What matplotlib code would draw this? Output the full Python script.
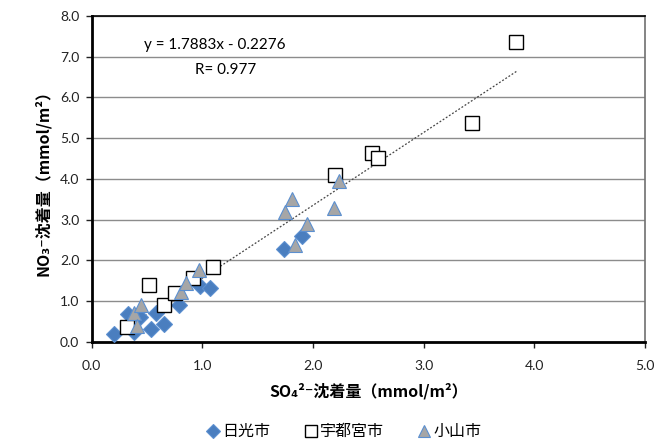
import numpy as np
import matplotlib
matplotlib.use("Agg")
import matplotlib.pyplot as plt

plt.rcParams['font.family'] = ['Noto Sans CJK JP', 'DejaVu Sans']

# 日光市 (diamonds)
nikko_so4 = [0.20, 0.33, 0.38, 0.44, 0.54, 0.58, 0.65, 0.79, 0.98, 1.07, 1.74, 1.90]
nikko_no3 = [0.19, 0.68, 0.24, 0.61, 0.31, 0.71, 0.43, 0.89, 1.38, 1.32, 2.27, 2.60]

# 宇都宮市 (squares)
utsu_so4 = [0.32, 0.52, 0.65, 0.75, 0.92, 1.10, 2.20, 2.53, 2.59, 3.44, 3.84]
utsu_no3 = [0.35, 1.39, 0.89, 1.19, 1.57, 1.84, 4.09, 4.63, 4.52, 5.37, 7.37]

# 小山市 (triangles)
oyama_so4 = [0.38, 0.41, 0.45, 0.81, 0.85, 0.97, 1.84, 1.95, 1.75, 1.81, 2.19, 2.24]
oyama_no3 = [0.70, 0.39, 0.90, 1.23, 1.43, 1.76, 2.38, 2.90, 3.19, 3.50, 3.29, 3.95]

slope, intercept = 1.7883, -0.2276
r_value = 0.977

fig = plt.figure(figsize=(6.62, 4.41), dpi=100)
ax = fig.add_axes([0.1385, 0.2252, 0.8355, 0.7385])

ax.set_xlim(0, 5)
ax.set_ylim(0, 8)
ax.set_xticks(np.arange(0, 5.01, 1.0))
ax.set_yticks(np.arange(0, 8.01, 1.0))
ax.xaxis.set_major_formatter(matplotlib.ticker.FormatStrFormatter('%.1f'))
ax.yaxis.set_major_formatter(matplotlib.ticker.FormatStrFormatter('%.1f'))
ax.tick_params(axis='both', labelsize=10, colors='#222222', length=4, width=1,
               direction='out')
ax.tick_params(axis='x', pad=9)
ax.tick_params(axis='y', pad=5)
for lab in ax.get_xticklabels() + ax.get_yticklabels():
    lab.set_family(['Lato', 'DejaVu Sans'])

ax.grid(axis='y', color='#8c8c8c', linewidth=1.0)
ax.set_axisbelow(True)

ax.spines['left'].set_linewidth(2)
ax.spines['bottom'].set_linewidth(2)
ax.spines['top'].set_linewidth(1.2)
ax.spines['right'].set_color('#707070')
ax.spines['right'].set_linewidth(1.2)

# trend line over all points
all_x = nikko_so4 + utsu_so4 + oyama_so4
xs = np.array([min(all_x), max(all_x)])
ax.plot(xs, slope * xs + intercept, linestyle=(0, (1.5, 1.5)), color='#444444',
        linewidth=0.9, zorder=2)

ax.plot(nikko_so4, nikko_no3, linestyle='none', marker='D', markersize=8,
        markerfacecolor='#4a7ebf', markeredgecolor='#5b8fd0', markeredgewidth=0.8,
        label='日光市', zorder=3)
ax.plot(utsu_so4, utsu_no3, linestyle='none', marker='s', markersize=9.5,
        markerfacecolor='white', markeredgecolor='black', markeredgewidth=1.0,
        label='宇都宮市', zorder=4)
ax.plot(oyama_so4, oyama_no3, linestyle='none', marker='^', markersize=10.5,
        markerfacecolor='#a6a6a6', markeredgecolor='#5b8fd0', markeredgewidth=0.8,
        label='小山市', zorder=5)

ax.text(1.11, 7.29, 'y = 1.7883x - 0.2276', ha='center', va='center', fontsize=11,
        family=['Lato', 'DejaVu Sans'])
ax.text(1.21, 6.67, 'R= %.3f' % r_value, ha='center', va='center', fontsize=11,
        family=['Lato', 'DejaVu Sans'])

ax.set_ylabel('NO₃⁻沈着量（mmol/m²）', fontsize=11.5, fontweight='bold', labelpad=6)
ax.set_xlabel('SO₄²⁻沈着量（mmol/m²）', fontsize=11.5, fontweight='bold', labelpad=8)

leg = ax.legend(loc='center', bbox_to_anchor=(0.455, -0.277), ncol=3, frameon=False,
                fontsize=11.5, handletextpad=0.1, columnspacing=2.0, handlelength=1.0,
                markerscale=0.85)

fig.savefig('out.png', dpi=100)
